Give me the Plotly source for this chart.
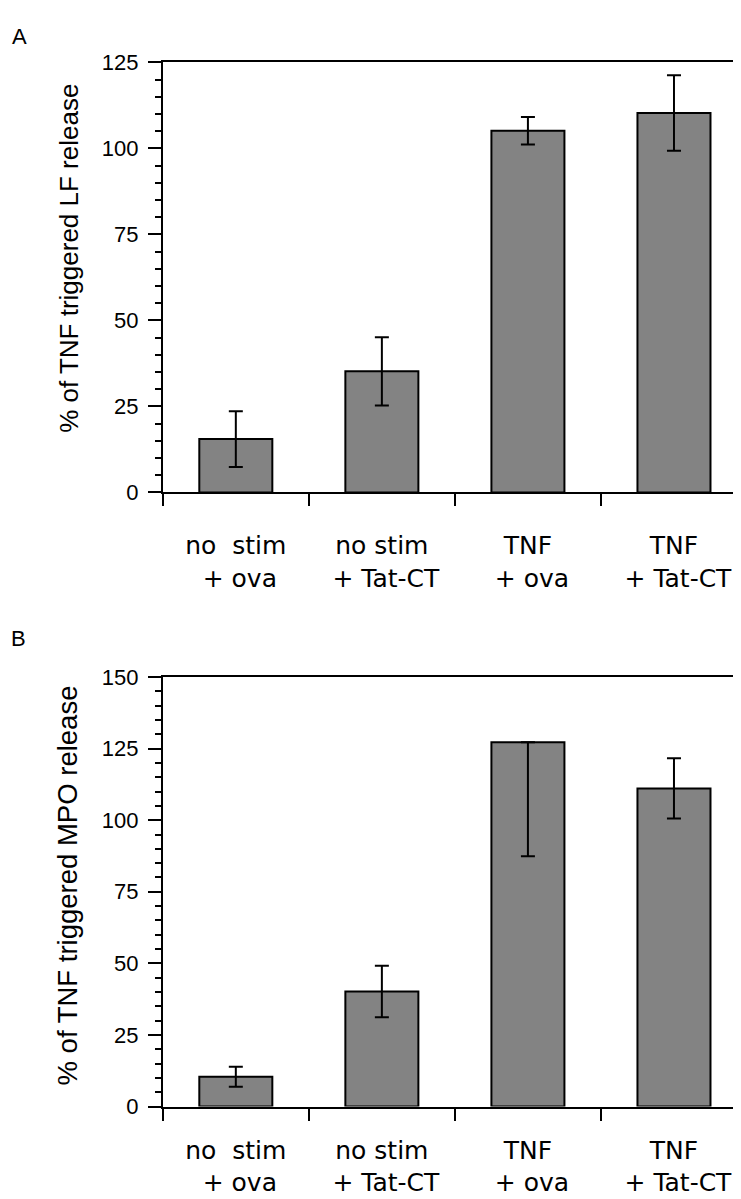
import plotly.graph_objects as go

# ---- data ----
categories = ["no  stim<br> + ova", "no stim<br> + Tat-CT", "TNF<br> + ova", "TNF<br> + Tat-CT"]
lf_values = [15.5, 35.2, 105.1, 110.3]
lf_err = [8.1, 9.9, 4.0, 11.0]
mpo_values = [10.4, 40.2, 127.2, 111.1]
mpo_err_plus = [3.5, 9.0, 0.0, 10.5]
mpo_err_minus = [3.5, 9.0, 39.8, 10.5]
lf_ticks = [0, 25, 50, 75, 100, 125]
mpo_ticks = [0, 25, 50, 75, 100, 125, 150]
lf_title = "% of TNF triggered LF release"
mpo_title = "% of TNF triggered MPO release"

W, H = 741, 1199
BAR_COLOR = "#838383"


def py(px):
    return 1 - px / H


def px_x(px):
    return px / W


fig = go.Figure()

fig.add_trace(go.Bar(
    x=categories, y=lf_values, xaxis="x", yaxis="y",
    marker=dict(color=BAR_COLOR, line=dict(color="black", width=2)),
    error_y=dict(type="data", array=lf_err, visible=True, color="black", thickness=2, width=7),
    showlegend=False,
))
fig.add_trace(go.Bar(
    x=categories, y=mpo_values, xaxis="x2", yaxis="y2",
    marker=dict(color=BAR_COLOR, line=dict(color="black", width=2)),
    error_y=dict(type="data", symmetric=False, array=mpo_err_plus, arrayminus=mpo_err_minus,
                 visible=True, color="black", thickness=2, width=7),
    showlegend=False,
))

xdom = [px_x(155), px_x(740)]

xcommon = dict(
    type="category", range=[-0.5, 3.5], tickson="boundaries", ticks="outside",
    ticklen=12, tickwidth=2, tickcolor="black", showline=True, linecolor="black",
    linewidth=2, mirror=True, showgrid=False, zeroline=False,
    tickfont=dict(family="DejaVu Sans", size=25, color="black"),
    domain=xdom,
)
ycommon = dict(
    ticks="outside", ticklen=13, tickwidth=2, tickcolor="black", showline=True,
    linecolor="black", linewidth=2, mirror=True, showgrid=False, zeroline=False,
    tickfont=dict(family="Liberation Sans", size=22, color="black"),
    minor=dict(dtick=5, ticklen=6, tickwidth=1.5, tickcolor="black", ticks="outside", showgrid=False),
    ticklabelstandoff=5,
)

fig.update_layout(
    width=W, height=H,
    margin=dict(l=0, r=0, t=0, b=0),
    paper_bgcolor="white", plot_bgcolor="white",
    bargap=0.5,
    xaxis=dict(anchor="y", ticklabelstandoff=30, **xcommon),
    yaxis=dict(anchor="x", range=[0, 125], tickvals=lf_ticks, domain=[py(482.5), py(43.3)], **ycommon),
    xaxis2=dict(anchor="y2", ticklabelstandoff=20, **xcommon),
    yaxis2=dict(anchor="x2", range=[0, 150], tickvals=mpo_ticks, domain=[py(1109.7), py(671)], **ycommon),
)

fig.add_annotation(text=lf_title, x=px_x(61), y=py(243), xref="paper", yref="paper",
                   textangle=-90, showarrow=False,
                   font=dict(family="Liberation Sans", size=26, color="black"),
                   xanchor="center", yanchor="middle")
fig.add_annotation(text=mpo_title, x=px_x(60), y=py(884), xref="paper", yref="paper",
                   textangle=-90, showarrow=False,
                   font=dict(family="Liberation Sans", size=27.5, color="black"),
                   xanchor="center", yanchor="middle")

letter_font = dict(family="Liberation Sans", size=22, color="black")
fig.add_annotation(text="A", x=px_x(2), y=py(2), xref="paper", yref="paper", showarrow=False,
                   font=letter_font, xanchor="left", yanchor="top")
fig.add_annotation(text="B", x=px_x(1), y=py(617), xref="paper", yref="paper", showarrow=False,
                   font=letter_font, xanchor="left", yanchor="top")

fig.write_html("out.html")
